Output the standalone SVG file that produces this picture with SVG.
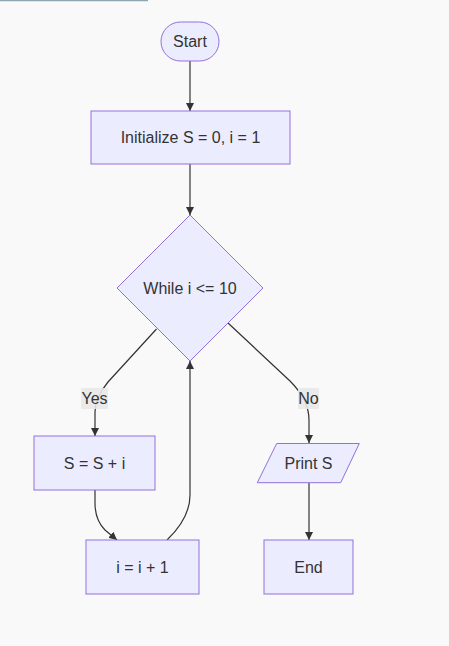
<svg xmlns="http://www.w3.org/2000/svg" width="449" height="646" viewBox="0 0 449 646">
<style>
.n{fill:#ECECFF;stroke:#9370DB;stroke-width:1}
.t{font-family:"Liberation Sans",Arial,sans-serif;font-size:16px;fill:#333;text-anchor:middle;dominant-baseline:central}
.e{fill:none;stroke:#333;stroke-width:1.2}
.lb{fill:#e8e8e8;opacity:0.9}
</style>
<defs>
<marker id="ah" viewBox="0 0 10 10" refX="10" refY="5" markerWidth="8" markerHeight="8" orient="auto" markerUnits="userSpaceOnUse">
<path d="M0,0 L10,5 L0,10 z" fill="#333"/>
</marker>
</defs>
<rect width="449" height="646" fill="#f9f9f9"/>
<line x1="0" y1="0.5" x2="148" y2="0.5" stroke="#8fa6b2" stroke-width="1.5"/>
<g id="connectors">
<path class="e" d="M190,61 L190,111" marker-end="url(#ah)"/>
<path class="e" d="M190,164 L190,215" marker-end="url(#ah)"/>
<path class="e" d="M156.5,329 L108,382 Q95,398 95,412 L95,436" marker-end="url(#ah)"/>
<path class="e" d="M95,490 L95,503 Q95,520 105,530 L117,540" marker-end="url(#ah)"/>
<path class="e" d="M167,540 Q190,518 190,495 L190,361" marker-end="url(#ah)"/>
<path class="e" d="M228,323 L290,381 Q309,400 309,420 L309,443" marker-end="url(#ah)"/>
<path class="e" d="M309,483 L309,540" marker-end="url(#ah)"/>
<g id="label-yes"><rect class="lb" x="81" y="388" width="27" height="21"/><text class="t" x="94.5" y="398.5">Yes</text></g>
<g id="label-no"><rect class="lb" x="298" y="388" width="21" height="21"/><text class="t" x="308.5" y="398.5">No</text></g>
</g>
<g id="start"><rect class="n" x="161" y="22" width="58" height="39" rx="19.5"/><text class="t" x="190" y="41.5">Start</text></g>
<g id="init"><rect class="n" x="91" y="111" width="199" height="53"/><text class="t" x="190.5" y="137.5">Initialize S = 0, i = 1</text></g>
<g id="cond"><polygon class="n" points="190,215 263,288 190,361 117,288"/><text class="t" x="190" y="288">While i &lt;= 10</text></g>
<g id="add"><rect class="n" x="34" y="436" width="121" height="54"/><text class="t" x="94.5" y="463">S = S + i</text></g>
<g id="inc"><rect class="n" x="86" y="540" width="113" height="54"/><text class="t" x="142.5" y="567">i = i + 1</text></g>
<g id="print"><polygon class="n" points="276.7,443.5 359.3,443.5 340.7,482.7 257.3,482.7"/><text class="t" x="308.5" y="463">Print S</text></g>
<g id="end"><rect class="n" x="264" y="540" width="89" height="54"/><text class="t" x="308.5" y="567">End</text></g>
</svg>
